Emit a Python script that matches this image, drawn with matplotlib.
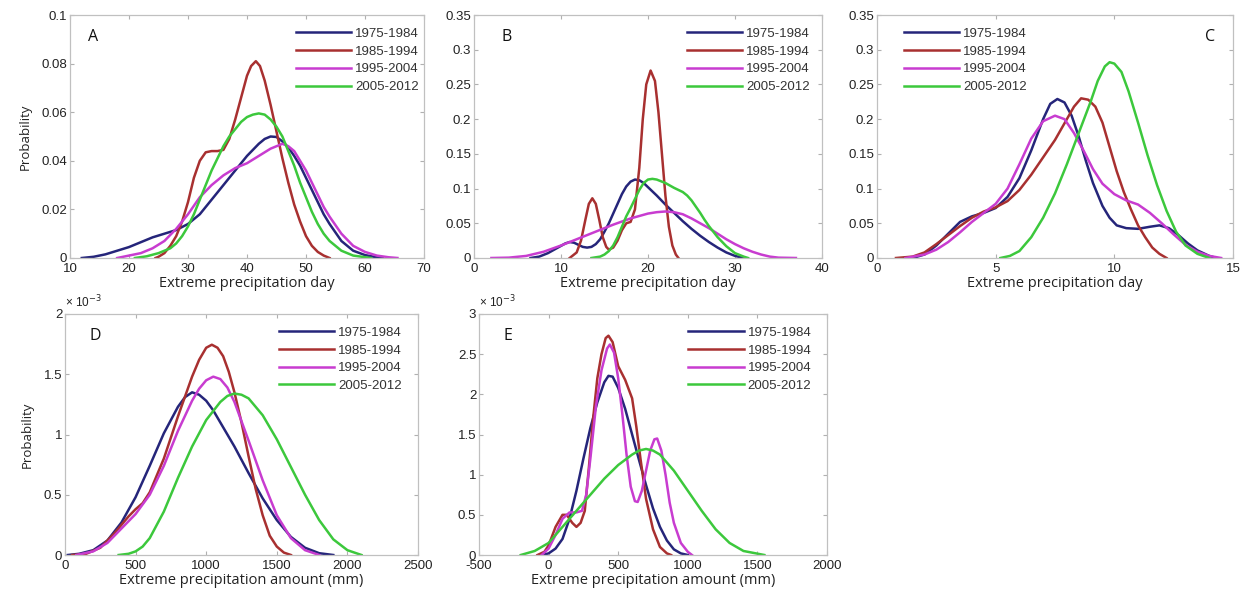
import numpy as np
import matplotlib.pyplot as plt
from matplotlib.ticker import FuncFormatter

plt.rcParams['font.family'] = ['Liberation Sans', 'DejaVu Sans']

periods = ["1975-1984", "1985-1994", "1995-2004", "2005-2012"]
colors = ["#25257a", "#a83030", "#c83cd0", "#3cc83c"]

# ---- A: extreme precipitation day ----
a_x = [
    [12, 14, 16, 18, 20, 22, 24, 26, 28, 30, 32, 34, 36, 38, 40, 42, 43, 44, 45, 46, 47, 48, 49, 50, 51, 52, 53, 54, 56, 58, 60, 62, 63],
    [24.5, 25, 26, 27, 28, 29, 30, 31, 32, 33, 34, 35, 36, 37, 38, 39, 40, 40.7, 41.5, 42.2, 43, 44, 45, 46, 47, 48, 49, 50, 51, 52, 53, 54],
    [18, 20, 22, 24, 26, 28, 30, 32, 34, 36, 38, 40, 42, 44, 46, 47, 48, 49, 50, 51, 52, 53, 54, 56, 58, 60, 62, 64, 65.5],
    [21, 23, 25, 27, 28, 29, 30, 31, 32, 33, 34, 35, 36, 37, 38, 39, 40, 41, 42, 43, 44, 45, 46, 47, 48, 49, 50, 51, 52, 53, 54, 56, 58, 61],
]
a_y = [
    [0, 0.0005, 0.0015, 0.003, 0.0045, 0.0065, 0.0085, 0.010, 0.0115, 0.014, 0.018, 0.024, 0.030, 0.036, 0.042, 0.047, 0.049, 0.050, 0.0498, 0.048, 0.0455, 0.042, 0.038, 0.033, 0.028, 0.023, 0.018, 0.014, 0.007, 0.003, 0.0012, 0.0003, 0],
    [0, 0.0005, 0.002, 0.005, 0.009, 0.015, 0.023, 0.033, 0.040, 0.0435, 0.044, 0.044, 0.0445, 0.049, 0.057, 0.066, 0.075, 0.079, 0.081, 0.079, 0.073, 0.063, 0.052, 0.041, 0.031, 0.022, 0.015, 0.009, 0.005, 0.0025, 0.001, 0],
    [0, 0.001, 0.002, 0.004, 0.007, 0.012, 0.018, 0.025, 0.030, 0.034, 0.037, 0.039, 0.042, 0.045, 0.047, 0.046, 0.044, 0.040, 0.036, 0.031, 0.026, 0.021, 0.017, 0.010, 0.005, 0.0025, 0.001, 0.0003, 0],
    [0, 0.0007, 0.002, 0.004, 0.006, 0.009, 0.013, 0.018, 0.024, 0.030, 0.036, 0.041, 0.046, 0.050, 0.053, 0.056, 0.058, 0.059, 0.0595, 0.059, 0.057, 0.054, 0.050, 0.044, 0.038, 0.031, 0.025, 0.019, 0.014, 0.010, 0.007, 0.003, 0.001, 0],
]

# ---- B ----
b_x = [
    [6.5, 7.5, 8.5, 9.5, 10.5, 11, 11.5, 12, 12.5, 13, 13.5, 14, 14.5, 15, 15.5, 16, 16.5, 17, 17.5, 18, 18.5, 19, 19.5, 20, 21, 22, 23, 24, 25, 26, 27, 28, 29, 30, 31],
    [11, 11.8, 12.3, 12.8, 13.2, 13.6, 14, 14.4, 14.8, 15.2, 15.5, 16, 16.5, 17, 17.5, 18, 18.5, 19, 19.4, 19.8, 20.3, 20.8, 21.2, 21.6, 22, 22.4, 22.8, 23.2, 23.5],
    [2, 4, 6, 8, 10, 12, 14, 16, 18, 20, 21, 22, 23, 24, 25, 26, 27, 28, 29, 30, 31, 32, 33, 34, 35, 37],
    [13.5, 14.5, 15, 15.5, 16, 16.5, 17, 17.5, 18, 18.5, 19, 19.5, 20, 20.5, 21, 22, 23, 24, 24.5, 25, 25.5, 26, 26.5, 27, 28, 29, 30, 31, 31.5],
]
b_y = [
    [0, 0.002, 0.007, 0.014, 0.021, 0.023, 0.022, 0.019, 0.016, 0.015, 0.016, 0.02, 0.027, 0.038, 0.05, 0.064, 0.078, 0.092, 0.103, 0.11, 0.113, 0.112, 0.108, 0.102, 0.09, 0.077, 0.065, 0.053, 0.042, 0.032, 0.023, 0.015, 0.008, 0.003, 0],
    [0, 0.008, 0.025, 0.055, 0.078, 0.086, 0.078, 0.055, 0.03, 0.016, 0.012, 0.015, 0.025, 0.04, 0.05, 0.052, 0.07, 0.13, 0.2, 0.25, 0.27, 0.255, 0.21, 0.15, 0.09, 0.045, 0.018, 0.005, 0],
    [0, 0.0005, 0.003, 0.009, 0.018, 0.028, 0.038, 0.048, 0.057, 0.064, 0.066, 0.067, 0.066, 0.063, 0.057, 0.05, 0.043, 0.035, 0.027, 0.02, 0.014, 0.009, 0.005, 0.002, 0.0005, 0],
    [0, 0.002, 0.005, 0.01, 0.018, 0.03, 0.045, 0.06, 0.072, 0.085, 0.098, 0.108, 0.113, 0.114, 0.113, 0.108, 0.101, 0.095, 0.09, 0.083, 0.074, 0.065, 0.055, 0.046, 0.03, 0.017, 0.007, 0.002, 0],
]

# ---- C ----
c_x = [
    [1.5, 2, 2.5, 3, 3.5, 4, 4.5, 5, 5.5, 6, 6.5, 7, 7.3, 7.6, 7.9, 8.2, 8.5, 8.8, 9.1, 9.5, 9.8, 10.1, 10.5, 11, 11.5, 11.9, 12.3, 12.7, 13.1, 13.5, 14, 14.3],
    [0.8, 1.5, 2, 2.5, 3, 3.5, 4, 4.5, 5, 5.5, 6, 6.5, 7, 7.5, 8, 8.3, 8.6, 8.9, 9.2, 9.5, 9.8, 10.1, 10.4, 10.7, 11, 11.3, 11.6, 11.9, 12.2],
    [1.2, 2, 2.5, 3, 3.5, 4, 4.5, 5, 5.5, 6, 6.5, 7, 7.5, 7.9, 8.3, 8.7, 9.1, 9.5, 10, 10.5, 11, 11.5, 12, 12.5, 13, 13.5, 14, 14.5],
    [5.2, 5.6, 6, 6.5, 7, 7.5, 8, 8.5, 9, 9.3, 9.6, 9.8, 10, 10.3, 10.6, 11, 11.4, 11.8, 12.2, 12.6, 13, 13.5, 14],
]
c_y = [
    [0, 0.005, 0.018, 0.035, 0.052, 0.06, 0.065, 0.072, 0.088, 0.115, 0.155, 0.2, 0.222, 0.229, 0.224, 0.205, 0.175, 0.14, 0.108, 0.075, 0.058, 0.047, 0.043, 0.042, 0.045, 0.047, 0.043, 0.033, 0.021, 0.011, 0.003, 0],
    [0, 0.002, 0.008, 0.02, 0.033, 0.046, 0.058, 0.067, 0.073, 0.082, 0.098, 0.12, 0.145, 0.17, 0.2, 0.218, 0.23, 0.228, 0.218, 0.195, 0.16, 0.125, 0.095, 0.07, 0.047, 0.03, 0.015, 0.006, 0],
    [0, 0.005, 0.012, 0.023, 0.037, 0.052, 0.065, 0.078, 0.1, 0.135, 0.172, 0.197, 0.205, 0.2, 0.18, 0.155, 0.128, 0.107, 0.092, 0.083, 0.077, 0.065, 0.05, 0.034, 0.019, 0.009, 0.003, 0],
    [0, 0.003, 0.01, 0.03, 0.058, 0.093, 0.135, 0.18, 0.225, 0.255, 0.276, 0.282, 0.28, 0.268, 0.24, 0.195, 0.148, 0.105, 0.068, 0.038, 0.018, 0.006, 0],
]

# ---- D: extreme precipitation amount (values x 1e-3) ----
d_x = [
    [20, 100, 200, 300, 400, 500, 600, 700, 800, 850, 900, 950, 1000, 1050, 1100, 1200, 1300, 1400, 1500, 1600, 1700, 1800, 1900],
    [50, 150, 250, 350, 450, 500, 550, 600, 700, 800, 900, 950, 1000, 1040, 1080, 1120, 1160, 1200, 1250, 1300, 1350, 1400, 1450, 1500, 1550, 1600],
    [80, 200, 300, 400, 500, 600, 700, 800, 900, 950, 1000, 1050, 1100, 1150, 1200, 1300, 1400, 1500, 1600, 1700, 1800],
    [380, 450, 500, 550, 600, 700, 800, 900, 1000, 1100, 1150, 1200, 1250, 1300, 1400, 1500, 1600, 1700, 1800, 1900, 2000, 2100],
]
d_y = [
    [0, 0.01, 0.04, 0.12, 0.27, 0.48, 0.74, 1.01, 1.23, 1.31, 1.35, 1.33, 1.28, 1.2, 1.1, 0.9, 0.68, 0.47, 0.29, 0.15, 0.06, 0.015, 0],
    [0, 0.01, 0.06, 0.18, 0.32, 0.38, 0.43, 0.52, 0.8, 1.15, 1.48, 1.62, 1.72, 1.745, 1.72, 1.65, 1.52, 1.35, 1.1, 0.82, 0.55, 0.33, 0.16, 0.07, 0.02, 0],
    [0, 0.03, 0.1, 0.22, 0.34, 0.5, 0.74, 1.03, 1.28, 1.38, 1.45, 1.48, 1.46, 1.39, 1.27, 0.95, 0.62, 0.33, 0.14, 0.04, 0],
    [0, 0.01, 0.03, 0.07, 0.14, 0.36, 0.64, 0.9, 1.12, 1.27, 1.32, 1.34, 1.33, 1.3, 1.16, 0.96, 0.73, 0.5, 0.29, 0.13, 0.04, 0],
]

# ---- E (values x 1e-3) ----
e_x = [
    [-50, 0, 50, 100, 150, 200, 250, 300, 350, 400, 430, 460, 500, 550, 600, 650, 700, 750, 800, 850, 900, 950, 1000],
    [-80, -30, 0, 50, 100, 130, 170, 200, 230, 260, 290, 320, 350, 380, 410, 430, 460, 500, 550, 600, 630, 660, 700, 750, 800, 850, 880],
    [-50, 0, 50, 100, 150, 200, 240, 270, 300, 340, 380, 420, 440, 470, 500, 530, 560, 590, 620, 640, 670, 700, 730, 760, 780, 810, 840, 870, 900, 950, 1000, 1030],
    [-200, -100, 0, 100, 200, 300, 400, 500, 600, 650, 700, 750, 800, 900, 1000, 1100, 1200, 1300, 1400, 1550],
]
e_y = [
    [0, 0.02, 0.08, 0.2, 0.45, 0.8, 1.2, 1.58, 1.9, 2.15, 2.23, 2.22, 2.08, 1.82, 1.5, 1.18, 0.87, 0.58, 0.35, 0.18, 0.07, 0.02, 0],
    [0, 0.04, 0.12, 0.35, 0.5, 0.5, 0.4, 0.35, 0.4, 0.55, 1.1, 1.7, 2.2, 2.5, 2.7, 2.73, 2.65, 2.35, 2.18, 1.95, 1.6, 1.2, 0.7, 0.32, 0.1, 0.02, 0],
    [0, 0.08, 0.25, 0.45, 0.53, 0.53, 0.55, 0.75, 1.2, 1.85, 2.3, 2.57, 2.62, 2.52, 2.2, 1.75, 1.25, 0.85, 0.67, 0.66, 0.8, 1.05, 1.3, 1.44, 1.45, 1.3, 1.0, 0.65, 0.4, 0.15, 0.04, 0],
    [0, 0.05, 0.15, 0.35, 0.55, 0.75, 0.95, 1.12, 1.25, 1.3, 1.32, 1.3, 1.25, 1.05, 0.8, 0.55, 0.32, 0.15, 0.05, 0],
]

W, H = 1243, 590
fig = plt.figure(figsize=(W / 100, H / 100), dpi=100)


def make_ax(x0, x1, y0, y1):
    return fig.add_axes([x0 / W, 1 - y1 / H, (x1 - x0) / W, (y1 - y0) / H])


fmt = FuncFormatter(lambda v, p: "%g" % round(v, 6))


def panel(ax, xs, ys, xlim, xticks, ylim, yticks, xlabel, letter, letter_pos,
          leg_loc, leg_anchor, ylabel=None, offset=False):
    for x, y, c, lab in zip(xs, ys, colors, periods):
        ax.plot(x, y, color=c, lw=1.8, label=lab, solid_joinstyle="round")
    ax.set_xlim(*xlim)
    ax.set_ylim(*ylim)
    ax.set_xticks(xticks)
    ax.set_yticks(yticks)
    ax.xaxis.set_major_formatter(fmt)
    ax.yaxis.set_major_formatter(fmt)
    ax.tick_params(direction="in", top=True, right=True, length=3,
                   color="#b0b0b0", labelsize=9.5, labelcolor="#222222", pad=2)
    ax.tick_params(axis="x", pad=3.5)
    for s in ax.spines.values():
        s.set_color("#c0c0c0")
        s.set_linewidth(0.9)
    ax.set_xlabel(xlabel, fontsize=10.5, family=["Open Sans", "DejaVu Sans"],
                  color="#222222", labelpad=0.5)
    if ylabel:
        ax.set_ylabel(ylabel, fontsize=9.5, family=["Open Sans", "DejaVu Sans"],
                      color="#222222", labelpad=7)
    ax.text(letter_pos[0], letter_pos[1], letter, transform=ax.transAxes,
            fontsize=11.5, family=["Open Sans", "DejaVu Sans"], color="#111111",
            ha="left", va="center")
    leg = ax.legend(loc=leg_loc, bbox_to_anchor=leg_anchor, frameon=False, fontsize=9.5,
                    handlelength=4.2, handletextpad=0.3, labelspacing=0.42,
                    borderaxespad=0)
    for t in leg.get_texts():
        t.set_color("#333333")
    if offset:
        ax.text(0.0, 1.015, r"× 10$^{-3}$", transform=ax.transAxes, fontsize=8.5,
                color="#222222", ha="left", va="bottom")


axA = make_ax(70, 424, 15, 258)
panel(axA, a_x, a_y, (10, 70), range(10, 71, 10), (0, 0.1), np.arange(0, 0.101, 0.02),
      "Extreme precipitation day", "A", (0.05, 0.91),
      "upper right", (1.0, 0.97), ylabel="Probability")

axB = make_ax(474, 822, 15, 258)
panel(axB, b_x, b_y, (0, 40), range(0, 41, 10), (0, 0.35), np.arange(0, 0.351, 0.05),
      "Extreme precipitation day", "B", (0.08, 0.91),
      "upper right", (0.98, 0.97))

axC = make_ax(877, 1233, 15, 258)
panel(axC, c_x, c_y, (0, 15), range(0, 16, 5), (0, 0.35), np.arange(0, 0.351, 0.05),
      "Extreme precipitation day", "C", (0.92, 0.91),
      "upper left", (0.06, 0.97))

axD = make_ax(65, 418, 314, 555)
panel(axD, d_x, d_y, (0, 2500), range(0, 2501, 500), (0, 2), np.arange(0, 2.01, 0.5),
      "Extreme precipitation amount (mm)", "D", (0.07, 0.91),
      "upper right", (0.97, 0.97), ylabel="Probability", offset=True)

axE = make_ax(479, 827, 314, 555)
panel(axE, e_x, e_y, (-500, 2000), range(-500, 2001, 500), (0, 3), np.arange(0, 3.01, 0.5),
      "Extreme precipitation amount (mm)", "E", (0.07, 0.91),
      "upper right", (0.97, 0.97), offset=True)

fig.savefig("out.png", dpi=100, facecolor="white")
